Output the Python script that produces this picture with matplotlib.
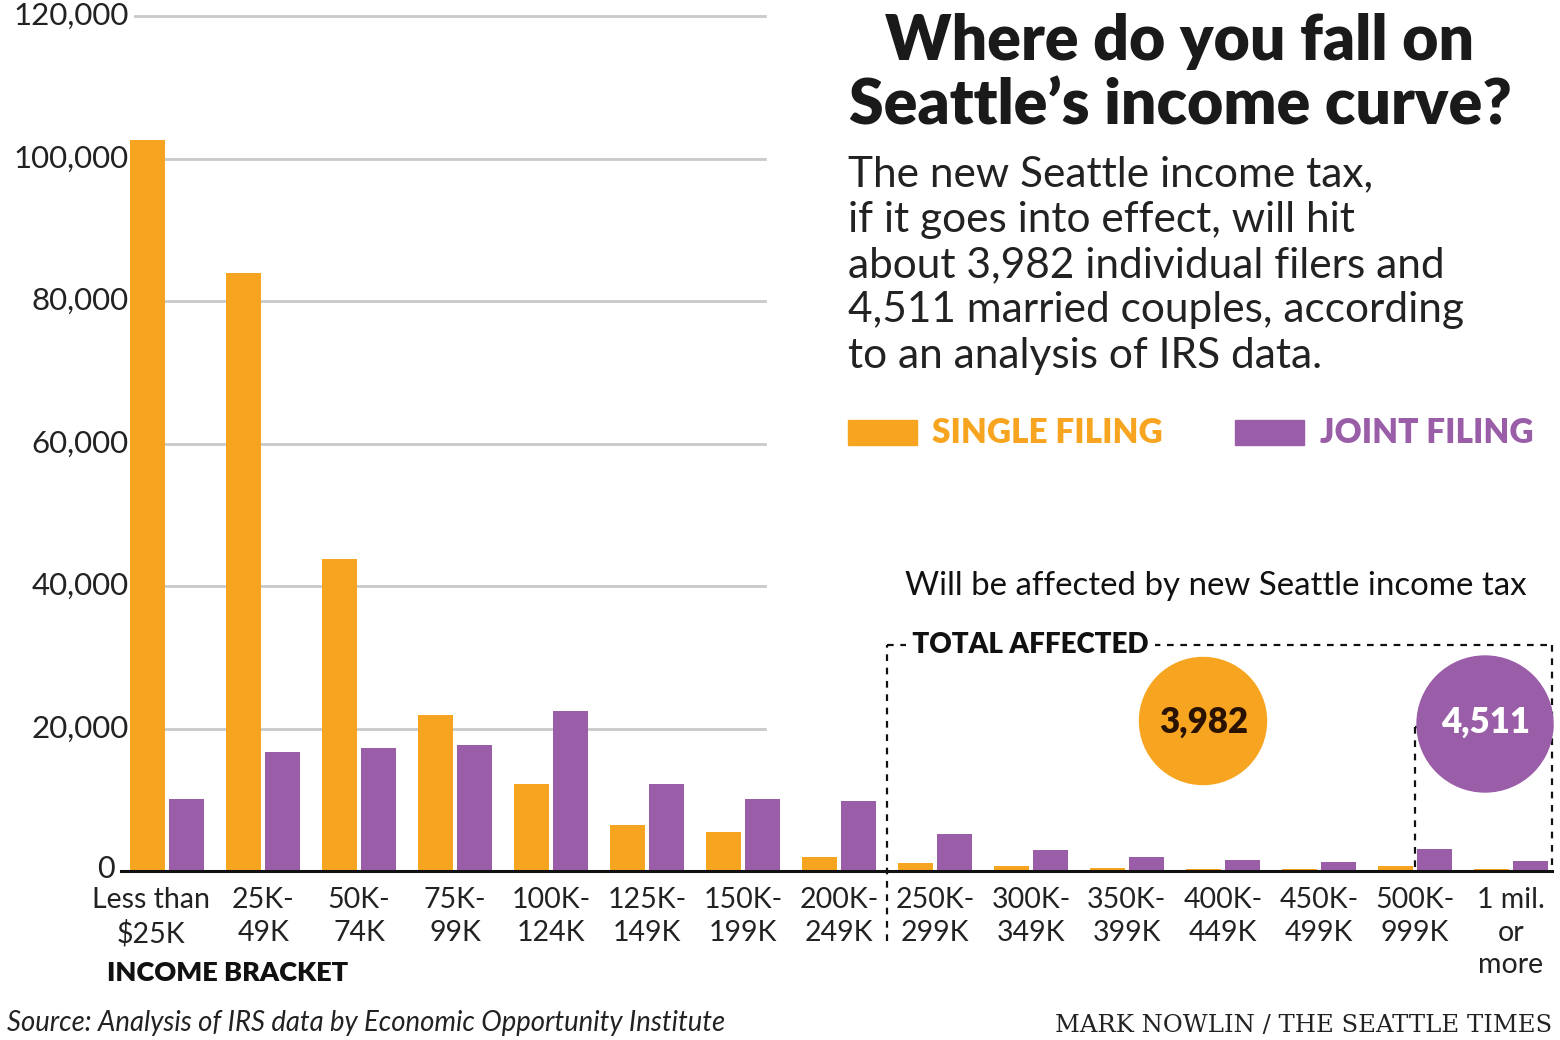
import numpy as np
import matplotlib
matplotlib.use("Agg")
import matplotlib.pyplot as plt
from matplotlib.patches import Ellipse, Rectangle

# ---------------------------------------------------------
# data
# ---------------------------------------------------------
brackets = ["Less than\n$25K", "25K-\n49K", "50K-\n74K", "75K-\n99K", "100K-\n124K",
            "125K-\n149K", "150K-\n199K", "200K-\n249K", "250K-\n299K", "300K-\n349K",
            "350K-\n399K", "400K-\n449K", "450K-\n499K", "500K-\n999K", "1 mil.\nor\nmore"]
single = [102600, 83900, 43800, 21900, 12200, 6500, 5500, 2000,
          1100, 650, 450, 350, 300, 650, 250]
joint = [10100, 16700, 17300, 17700, 22500, 12200, 10100, 9800,
         5200, 2900, 2000, 1550, 1300, 3100, 1400]
yticks = [0, 20000, 40000, 60000, 80000, 100000, 120000]
totals = {"single": 3982, "joint": 4511}

ORANGE = "#F7A520"
PURPLE = "#9A5EA8"
W, H = 1560, 1040
SANS = ["Lato", "DejaVu Sans"]


def fx(x):
    return x / W


def fy(y):
    return 1 - y / H


fig = plt.figure(figsize=(15.6, 10.4), dpi=100)
fig.patch.set_facecolor("white")
ax = fig.add_axes([fx(100), fy(871), fx(1552) - fx(100), fy(16) - fy(871)])
ax.set_xlim(-0.70, 14.43)
ax.set_ylim(0, 120000)
ax.axis("off")

x = np.arange(len(brackets))
bw = 0.365
off = 0.205
ax.bar(x - off, single, bw, color=ORANGE, zorder=3)
ax.bar(x + off, joint, bw, color=PURPLE, zorder=3)

# gridlines only across the left half
for t in yticks[1:]:
    ax.plot([-0.34, 6.23], [t, t], color="#c9c9c9", lw=2, zorder=1, clip_on=False)
    ax.text(-0.40, t, f"{t:,}", ha="right", va="center", fontsize=22.5,
            family=SANS, color="#222222")
ax.plot([-0.48, 14.43], [0, 0], color="#111111", lw=2.2, zorder=4, clip_on=False)
ax.text(-0.55, 300, "0", ha="right", va="center", fontsize=22, family=SANS, color="#222222")

for i, lab in enumerate(brackets):
    xi = i - 0.17 if i == 0 else i
    ax.text(xi, -2300, lab, ha="center", va="top", fontsize=20.5, family=SANS,
            color="#222222", linespacing=1.3)

# dotted "total affected" frames
dash = dict(color="#111111", lw=1.6, ls=(0, (3, 3)), zorder=2, clip_on=False)
ax.plot([7.5, 7.5], [-9800, 31700], **dash)
ax.plot([7.5, 14.43], [31700, 31700], **dash)
ax.plot([14.43, 14.43], [31700, 0], **dash)
ax.plot([13.0, 13.0], [20200, 0], **dash)
ax.plot([13.0, 14.43], [20200, 20200], **dash)

# circles with totals
c1 = Ellipse((fx(1203), fy(721)), 127 / W, 127 / H, transform=fig.transFigure,
             color=ORANGE, zorder=5)
c2 = Ellipse((fx(1485), fy(724)), 136 / W, 136 / H, transform=fig.transFigure,
             color=PURPLE, zorder=5)
fig.add_artist(c1)
fig.add_artist(c2)
fig.text(fx(1204), fy(722), f"{totals['single']:,}", ha="center", va="center",
         fontsize=25, fontweight="heavy", family=SANS, color="#2a1200", zorder=6)
fig.text(fx(1486), fy(722), f"{totals['joint']:,}", ha="center", va="center",
         fontsize=25, fontweight="heavy", family=SANS, color="white", zorder=6)

fig.text(fx(906), fy(645), " TOTAL AFFECTED ", ha="left", va="center", fontsize=20,
         fontweight="heavy", family=SANS, color="#111111",
         bbox=dict(facecolor="white", edgecolor="none", pad=0), zorder=6)
fig.text(fx(905), fy(586), "Will be affected by new Seattle income tax", ha="left",
         va="center", fontsize=23.8, family=SANS, color="#111111")

# title and intro
fig.text(fx(1180), fy(74), "Where do you fall on\nSeattle\u2019s income curve?", ha="center",
         va="center", fontsize=45, fontweight="heavy", family=SANS, color="#1a1a1a",
         linespacing=1.15)
fig.text(fx(848), fy(265), "The new Seattle income tax,\nif it goes into effect, will hit\n"
         "about 3,982 individual filers and\n4,511 married couples, according\n"
         "to an analysis of IRS data.", ha="left", va="center", fontsize=30.5,
         family=SANS, color="#222222", linespacing=1.24)

# legend
fig.add_artist(Rectangle((fx(848), fy(445)), 69 / W, 25 / H, transform=fig.transFigure,
                         color=ORANGE))
fig.add_artist(Rectangle((fx(1235), fy(445)), 69 / W, 25 / H, transform=fig.transFigure,
                         color=PURPLE))
fig.text(fx(932), fy(433), "SINGLE FILING", ha="left", va="center", fontsize=24,
         fontweight="heavy", family=SANS, color=ORANGE)
fig.text(fx(1320), fy(433), "JOINT FILING", ha="left", va="center", fontsize=24,
         fontweight="heavy", family=SANS, color=PURPLE)

# footer
fig.text(fx(107), fy(973), "INCOME BRACKET", ha="left", va="center", fontsize=19.5,
         fontweight="heavy", family=SANS, color="#111111")
fig.text(fx(7), fy(1023), "Source: Analysis of IRS data by Economic Opportunity Institute",
         ha="left", va="center", fontsize=19.8, style="italic", family=SANS, color="#222222")
fig.text(fx(1552), fy(1025), "MARK NOWLIN / THE SEATTLE TIMES", ha="right", va="center",
         fontsize=17.5, family=["DejaVu Serif"], color="#222222")

fig.savefig("out.png", dpi=100)
